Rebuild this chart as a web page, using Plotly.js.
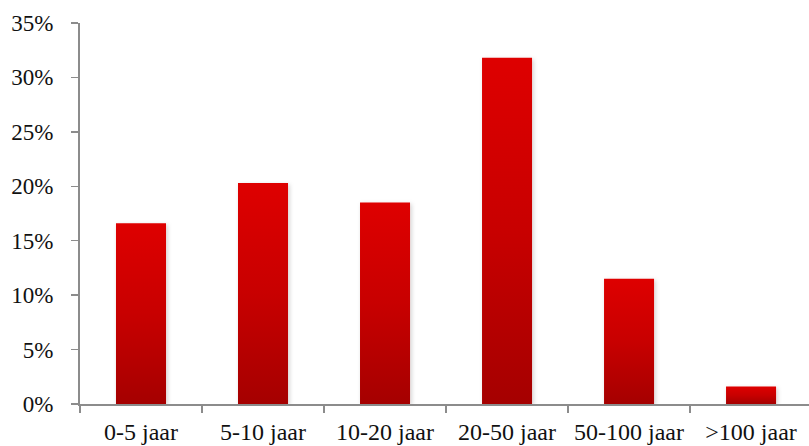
<!DOCTYPE html>
<html>
<head>
<meta charset="utf-8">
<script src="https://cdn.plot.ly/plotly-3.0.1.min.js"></script>
<style>
html,body{margin:0;padding:0;background:#fff;overflow:hidden;}
#chart{width:809px;height:446px;}
</style>
</head>
<body>
<div id="chart"></div>
<script>
const categories = ["0-5 jaar", "5-10 jaar", "10-20 jaar", "20-50 jaar", "50-100 jaar", ">100 jaar"];
const shares = [0.166, 0.203, 0.185, 0.318, 0.115, 0.016];
const yTickVals = [0, 0.05, 0.10, 0.15, 0.20, 0.25, 0.30, 0.35];

const FONT = "Liberation Serif, Times New Roman, serif";

const trace = {
  type: "bar",
  x: categories,
  y: shares,
  width: 0.41,
  marker: {color: "#c00000", line: {width: 0}},
  hoverinfo: "none"
};

const layout = {
  width: 809,
  height: 446,
  margin: {l: 80, r: 0, t: 23, b: 42, pad: 0},
  paper_bgcolor: "#ffffff",
  plot_bgcolor: "#ffffff",
  showlegend: false,
  font: {family: FONT, size: 23, color: "#111111"},
  xaxis: {
    type: "category",
    range: [-0.5, 5.475],
    tickson: "boundaries",
    ticks: "outside",
    ticklen: 7,
    tickwidth: 1.5,
    tickcolor: "#8c8c8c",
    showline: true,
    linecolor: "#8c8c8c",
    linewidth: 2,
    showgrid: false,
    zeroline: false,
    tickfont: {family: FONT, size: 24, color: "#111111"},
    ticklabelstandoff: 5,
    fixedrange: true
  },
  yaxis: {
    range: [0, 0.35],
    tickvals: yTickVals,
    tickformat: ".0%",
    ticks: "outside",
    ticklen: 7,
    tickwidth: 1.5,
    tickcolor: "#8c8c8c",
    showline: true,
    linecolor: "#8c8c8c",
    linewidth: 2,
    showgrid: false,
    zeroline: false,
    tickfont: {family: FONT, size: 23, color: "#111111"},
    ticklabelstandoff: 13,
    fixedrange: true
  }
};

const gd = document.getElementById("chart");
Plotly.newPlot(gd, [trace], layout, {staticPlot: true, displayModeBar: false}).then(function () {
  const svgNS = "http://www.w3.org/2000/svg";
  const svg = gd.querySelector("svg.main-svg");
  let defs = svg.querySelector("defs");
  if (!defs) { defs = document.createElementNS(svgNS, "defs"); svg.insertBefore(defs, svg.firstChild); }
  const grad = document.createElementNS(svgNS, "linearGradient");
  grad.setAttribute("id", "barGrad");
  grad.setAttribute("x1", "0"); grad.setAttribute("y1", "0");
  grad.setAttribute("x2", "0"); grad.setAttribute("y2", "1");
  [["0%", "#de0000"], ["50%", "#c80000"], ["100%", "#a50000"]].forEach(function (s) {
    const st = document.createElementNS(svgNS, "stop");
    st.setAttribute("offset", s[0]);
    st.setAttribute("stop-color", s[1]);
    grad.appendChild(st);
  });
  defs.appendChild(grad);
  const filt = document.createElementNS(svgNS, "filter");
  filt.setAttribute("id", "barShadow");
  filt.setAttribute("x", "-20%"); filt.setAttribute("y", "-10%");
  filt.setAttribute("width", "150%"); filt.setAttribute("height", "130%");
  const ds = document.createElementNS(svgNS, "feDropShadow");
  ds.setAttribute("dx", "1.5"); ds.setAttribute("dy", "1.5");
  ds.setAttribute("stdDeviation", "2");
  ds.setAttribute("flood-color", "#000");
  ds.setAttribute("flood-opacity", "0.18");
  filt.appendChild(ds);
  defs.appendChild(filt);
  gd.querySelectorAll(".bars path").forEach(function (p) {
    p.style.fill = "url(#barGrad)";
    p.setAttribute("filter", "url(#barShadow)");
  });
});
</script>
</body>
</html>
